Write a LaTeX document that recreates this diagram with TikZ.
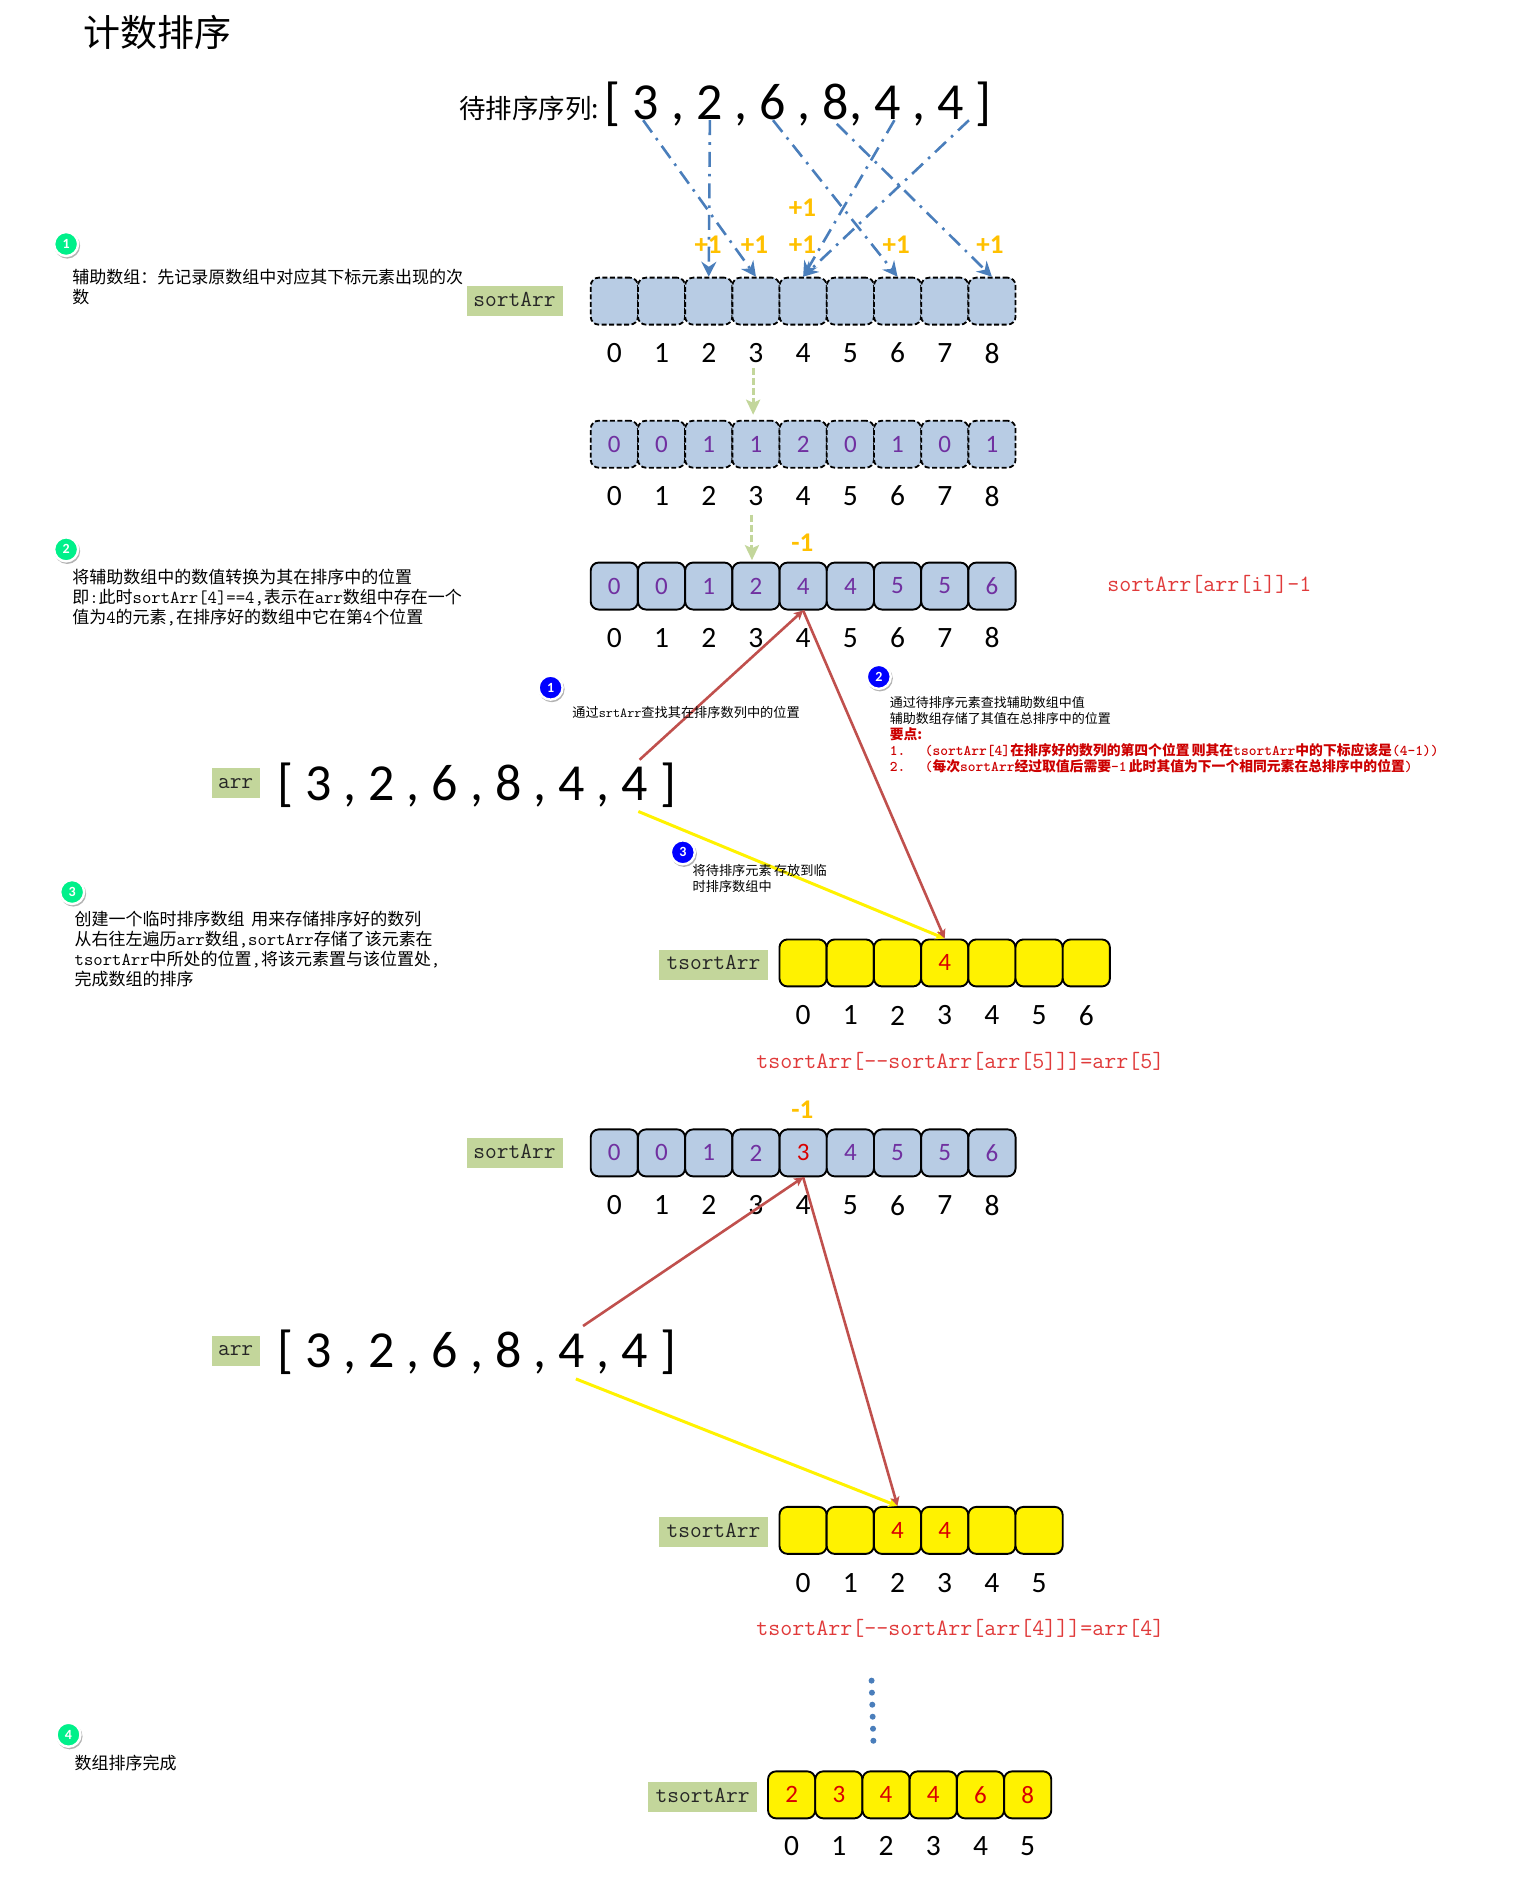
\documentclass[tikz,border=0pt]{standalone}
\usepackage{fontspec}
\setmainfont{Noto Sans CJK SC}
\newfontfamily\calf{Carlito}
\usetikzlibrary{arrows.meta,shadows}
\definecolor{cellblue}{HTML}{B8CCE4}
\definecolor{labgreen}{HTML}{C3D69B}
\definecolor{arrowblue}{HTML}{4A7EBB}
\definecolor{warnred}{HTML}{C0504D}
\definecolor{amber}{HTML}{FFC000}
\definecolor{numpurple}{HTML}{7030A0}
\definecolor{badgegreen}{HTML}{00F08A}
\definecolor{coderd}{HTML}{E03A3A}
\newcommand\mm[2]{{\fontsize{#1}{#1}\selectfont\ttfamily #2}}
\newcommand\sqt[1]{\spaceskip=12pt\relax #1}
\newcommand\cellrow[6]{%
  \foreach \v [count=\i from 0] in {#6} {
    \node[#5] (#1\i) at ({#2+39.27*\i},#3) {\v};
    \node[idx] (#1l\i) at ({#2+39.27*\i},#4) {\i};
  }}
\tikzset{
  cellbase/.style={rectangle,rounded corners=8pt,minimum width=47.2pt,minimum height=47pt,inner sep=0pt,
    font=\calf\fontsize{25}{25}\selectfont},
  dashcell/.style={cellbase,draw=black,line width=1.8pt,dash pattern=on 5pt off 2.5pt,fill=cellblue,text=numpurple},
  solidcell/.style={cellbase,draw=black,line width=1.9pt,fill=cellblue,text=numpurple},
  yelcell/.style={cellbase,draw=black,line width=1.9pt,fill=yellow,text=red!85!black},
  idx/.style={font=\calf\fontsize{29.5}{29.5}\selectfont,inner sep=0pt},
  lab/.style={rectangle,fill=labgreen,inner sep=0pt,minimum height=30pt,text height=14pt,text depth=4pt,text=black!85,font=\ttfamily\fontsize{22.8}{22.8}\selectfont},
  bigseq/.style={font=\calf\fontsize{52}{52}\selectfont,inner sep=0pt},
  plus/.style={font=\calf\bfseries\fontsize{27}{27}\selectfont,text=amber,inner sep=0pt},
  note/.style={anchor=north west,align=left,inner sep=0pt,font=\fontsize{17}{20}\selectfont},
  small/.style={anchor=north west,align=left,inner sep=0pt,font=\fontsize{13.2}{16}\selectfont},
  redcode/.style={anchor=west,inner sep=0pt,text=coderd,font=\ttfamily\fontsize{23.3}{23.3}\selectfont},
  badge/.style={circle,draw=white,line width=2.4pt,minimum size=24pt,inner sep=0pt,text=white,
    font=\calf\bfseries\fontsize{14}{14}\selectfont,drop shadow={shadow xshift=1pt,shadow yshift=-1.5pt,shadow scale=1.08,opacity=.6}},
  gbadge/.style={badge,fill=badgegreen},
  bbadge/.style={badge,fill=blue},
  bluearr/.style={draw=arrowblue,line width=2.6pt,dash pattern=on 15pt off 7pt on 2.6pt off 7pt,
    -{Stealth[length=15pt,width=15pt,inset=5pt]}},
  greenarr/.style={draw=labgreen,line width=3pt,dash pattern=on 7pt off 3pt,
    -{Stealth[length=15pt,width=14pt,inset=3pt]}},
  redarr/.style={draw=warnred,line width=2.6pt,-{Stealth[length=9pt,width=9pt,inset=2pt]}},
  yelarr/.style={draw=yellow,line width=3pt,-{Stealth[length=9pt,width=9pt,inset=2pt]}},
  dotn/.style={circle,fill=arrowblue,inner sep=0pt,minimum size=6pt},
}
\begin{document}
\begin{tikzpicture}[x=1.2025pt,y=-1.2025pt]
\useasboundingbox (0,0) rectangle (1259,1568);
% title
\node[anchor=west,inner sep=0pt,font=\fontsize{37}{37}\selectfont] (title) at (69,27) {计数排序};
\node[anchor=west,inner sep=0pt,font=\fontsize{26.5}{26.5}\selectfont] (seqlab) at (382,90) {待排序序列:};
\node[bigseq,anchor=west] (seq) at (503,87) {\sqt{[ 3 , 2 , 6 , 8, 4 , 4 ]}};
% rows
\cellrow{a}{511}{250.5}{293.7}{dashcell}{{},{},{},{},{},{},{},{},{}}
\cellrow{b}{511}{369.5}{412.7}{dashcell}{0,0,1,1,2,0,1,0,1}
\cellrow{c}{511}{487.5}{530.7}{solidcell}{0,0,1,2,4,4,5,5,6}
\cellrow{d}{668}{801}{844.7}{yelcell}{{},{},{},4,{},{},{}}
\cellrow{e}{511}{959}{1002.7}{solidcell}{0,0,1,2,\textcolor{red!85!black}{3},4,5,5,6}
\cellrow{f}{668}{1273}{1316.7}{yelcell}{{},{},4,4,{},{}}
\cellrow{g}{658.5}{1493}{1535.7}{yelcell}{2,3,4,4,6,8}
% labels
\node[lab,minimum width=96pt] (l1) at (428,250.5) {sortArr};
\node[lab,minimum width=96pt] (l2) at (428,959.5) {sortArr};
\node[lab,minimum width=48pt] (l3) at (196,651.5) {arr};
\node[lab,minimum width=48pt] (l4) at (196,1123.5) {arr};
\node[lab,minimum width=109pt] (l5) at (593.5,802.5) {tsortArr};
\node[lab,minimum width=109pt] (l6) at (593.5,1274.5) {tsortArr};
\node[lab,minimum width=109pt] (l7) at (584.5,1495) {tsortArr};
% big sequences
\node[bigseq,anchor=west] (seq2) at (230.5,653) {\sqt{[ 3 , 2 , 6 , 8 , 4 , 4 ]}};
\node[bigseq,anchor=west] (seq3) at (230.5,1125) {\sqt{[ 3 , 2 , 6 , 8 , 4 , 4 ]}};
% blue arrows
\coordinate (s1) at (535,100);
\coordinate (s2) at (590.5,100);
\coordinate (s3) at (643,100);
\coordinate (s4) at (696,103);
\coordinate (s5) at (744,100);
\coordinate (s6) at (806,100);
\draw[bluearr] (s1) -- (a3.north);
\draw[bluearr] (s2) -- (a2.north);
\draw[bluearr] (s3) -- (a6.north);
\draw[bluearr] (s4) -- (a8.north);
\draw[bluearr] (s5) -- (a4.north);
\draw[bluearr] (s6) -- (a4.north);
% increments
\node[plus] (p1) at (589,203.5) {+1};
\node[plus] (p2) at (627.5,203.5) {+1};
\node[plus] (p3) at (667.5,203.5) {+1};
\node[plus] (p4) at (667.5,172.5) {+1};
\node[plus] (p5) at (745.5,203.5) {+1};
\node[plus] (p6) at (823.5,203.5) {+1};
\node[plus] (m1) at (667.5,451.5) {-1};
\node[plus] (m2) at (667.5,923.5) {-1};
% green arrows
\coordinate (g1s) at (626.5,306);
\coordinate (g1e) at (626.5,345);
\coordinate (g2s) at (625.5,428);
\coordinate (g2e) at (625.5,466);
\draw[greenarr] (g1s) -- (g1e);
\draw[greenarr] (g2s) -- (g2e);
% red & yellow
\coordinate (r1) at (532,632);
\coordinate (r2) at (485,1103);
\coordinate (y1) at (531,675);
\coordinate (y2) at (479,1147);
\draw[yelarr] (y1) -- (d3.north);
\draw[redarr] (r1) -- (c4.south);
\draw[redarr] (c4.south) -- (d3.north);
\draw[yelarr] (y2) -- (f2.north);
\draw[redarr] (r2) -- (e4.south);
\draw[redarr] (e4.south) -- (f2.north);
% code
\node[redcode] (code1) at (921,486) {sortArr[arr[i]]-1};
\node[redcode] (code2) at (629,882.5) {tsortArr[--sortArr[arr[5]]]=arr[5]};
\node[redcode] (code3) at (629,1354.5) {tsortArr[--sortArr[arr[4]]]=arr[4]};
% badges
\node[gbadge] (n1) at (55,203) {1};
\node[gbadge] (n2) at (55,457) {2};
\node[gbadge] (n3) at (60,742) {3};
\node[gbadge] (n4) at (57,1443) {4};
\node[bbadge] (k1) at (458,572) {1};
\node[bbadge] (k2) at (731,563) {2};
\node[bbadge] (k3) at (568,709) {3};
% notes
\node[note] (t1) at (60,223.5) {辅助数组：先记录原数组中对应其下标元素出现的次\\数};
\node[note] (t2) at (60,473.5) {将辅助数组中的数值转换为其在排序中的位置\\即\mm{18.2}{:}此时\mm{18.2}{sortArr[4]==4,}表示在\mm{18.2}{arr}数组中存在一个\\值为\mm{18.2}{4}的元素\mm{18.2}{,}在排序好的数组中它在第\mm{18.2}{4}个位置};
\node[note] (t3) at (62,757.5) {创建一个临时排序数组\hspace{.4em}用来存储排序好的数列\\从右往左遍历\mm{18.2}{arr}数组\mm{18.2}{,sortArr}存储了该元素在\\\mm{18.2}{tsortArr}中所处的位置\mm{18.2}{,}将该元素置与该位置处\mm{18.2}{,}\\完成数组的排序};
\node[note] (t4) at (62,1459.5) {数组排序完成};
\node[small] (u1) at (476,587.5) {通过\mm{13.8}{srtArr}查找其在排序数列中的位置};
\node[small,font=\fontsize{13}{16}\selectfont] (u2) at (740,579) {通过待排序元素查找辅助数组中值\\辅助数组存储了其值在总排序中的位置};
\node[small,text=red!80!black,font=\bfseries\fontsize{13.8}{16}\selectfont] (u3) at (740,605) {要点:\\\makebox[35pt][l]{\mm{14.8}{1.}}\mm{14.8}{(sortArr[4]}在排序好的数列的第四个位置\,则其在\mm{14.8}{tsortArr}中的下标应该是\mm{14.8}{(4-1))}\\\makebox[35pt][l]{\mm{14.8}{2.}}\mm{14.8}{(}每次\mm{14.8}{sortArr}经过取值后需要\mm{14.8}{-1}\,此时其值为下一个相同元素在总排序中的位置\mm{14.8}{)}};
\node[small] (u4) at (576,718.5) {将待排序元素\,存放到临\\时排序数组中};
% dots
\foreach \k in {0,...,5} \node[dotn] (dot\k) at ({725+0.3*\k},{1398+10*\k}) {};
\end{tikzpicture}
\end{document}
